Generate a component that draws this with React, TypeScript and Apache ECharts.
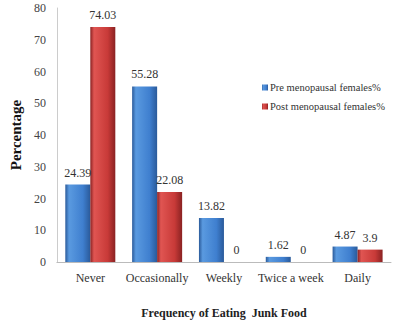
import React, { useEffect, useRef } from "react";
import * as echarts from "echarts";

const categories = ["Never", "Occasionally", "Weekly", "Twice a week", "Daily"];
const preValues = [24.39, 55.28, 13.82, 1.62, 4.87];
const postValues = [74.03, 22.08, 0, 0, 3.9];
const seriesNames = ["Pre menopausal females%", "Post menopausal females%"];

const FONT = "'Times New Roman', 'Liberation Serif', serif";

function grad(dark: string, mid: string, light: string) {
  return new echarts.graphic.LinearGradient(0, 0, 1, 0, [
    { offset: 0, color: dark },
    { offset: 0.15, color: light },
    { offset: 0.7, color: mid },
    { offset: 1, color: dark },
  ]);
}

export default function App() {
  const ref = useRef<HTMLDivElement>(null);
  useEffect(() => {
    const chart = echarts.init(ref.current!, null, { renderer: "svg" });
    const label = {
      show: true,
      position: "top" as const,
      distance: 6,
      color: "#333",
      fontFamily: FONT,
      fontSize: 12,
    };
    chart.setOption({
      animation: false,
      backgroundColor: "#fff",
      textStyle: { fontFamily: FONT },
      grid: { left: 46, right: 3, top: 8, bottom: 68 },
      legend: {
        orient: "vertical",
        left: 257,
        top: 77,
        itemWidth: 6,
        itemHeight: 6,
        itemGap: 8,
        icon: "rect",
        textStyle: { fontFamily: FONT, fontSize: 10.5, color: "#333", padding: [0, 0, 0, -3] },
        data: seriesNames,
      },
      xAxis: {
        type: "category",
        data: categories,
        axisLine: { lineStyle: { color: "#bbb" } },
        axisTick: { show: false },
        axisLabel: { fontFamily: FONT, fontSize: 12, color: "#333", margin: 10, interval: 0 },
        name: "Frequency of Eating  Junk Food",
        nameLocation: "middle",
        nameGap: 45,
        nameTextStyle: { fontFamily: FONT, fontSize: 12, fontWeight: "bold", color: "#222" },
      },
      yAxis: {
        type: "value",
        min: 0,
        max: 80,
        interval: 10,
        axisLine: { show: true, lineStyle: { color: "#ccc" } },
        axisTick: { show: false },
        splitLine: { show: false },
        axisLabel: { fontFamily: FONT, fontSize: 12, color: "#444", margin: 11 },
        name: "Percentage",
        nameLocation: "middle",
        nameGap: 26,
        nameRotate: 90,
        nameTextStyle: { fontFamily: FONT, fontSize: 15, fontWeight: "bold", color: "#111" },
      },
      series: [
        {
          name: seriesNames[0],
          type: "bar",
          data: preValues,
          barWidth: 25,
          barGap: "0%",
          itemStyle: { color: grad("#2a5a9a", "#3f7fcf", "#5a9ae0") },
          label,
        },
        {
          name: seriesNames[1],
          type: "bar",
          data: postValues,
          barWidth: 25,
          itemStyle: { color: grad("#8a2222", "#c83a38", "#e05552") },
          label,
        },
      ],
    });
    return () => chart.dispose();
  }, []);
  return <div ref={ref} style={{ width: 394, height: 330, position: "absolute", left: 0, top: 0 }} />;
}
